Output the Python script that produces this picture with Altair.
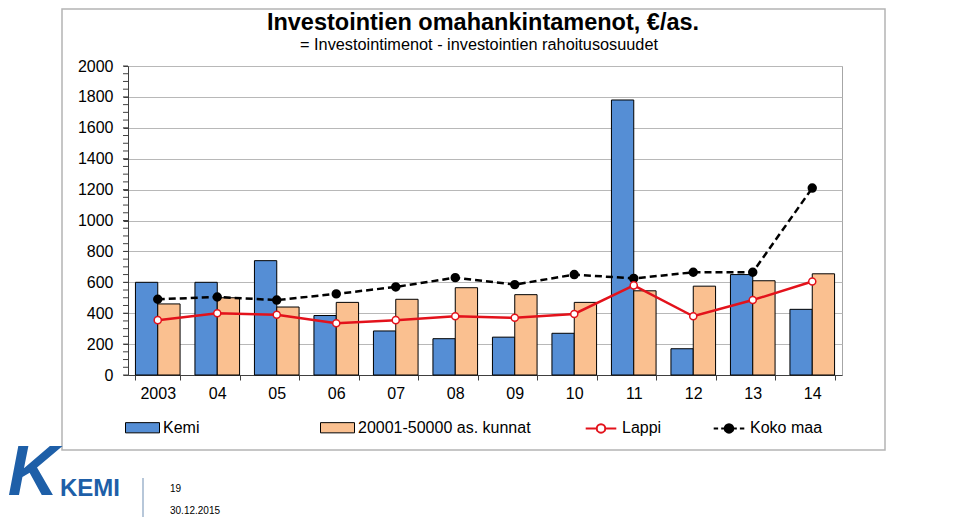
import altair as alt
import pandas as pd

# ---- data ----
years = ["2003", "04", "05", "06", "07", "08", "09", "10", "11", "12", "13", "14"]
kemi = [600, 600, 740, 385, 285, 235, 245, 270, 1780, 170, 650, 425]
kunnat = [460, 500, 440, 470, 490, 565, 520, 470, 545, 575, 610, 655]
lappi = [355, 400, 390, 335, 355, 380, 370, 395, 580, 380, 485, 605]
koko_maa = [490, 505, 485, 525, 570, 630, 585, 650, 625, 665, 665, 1210]

bar_series = ["Kemi", "20001-50000 as. kunnat"]
line_series = ["Lappi", "Koko maa"]

title_text = "Investointien omahankintamenot, €/as."
subtitle_text = "= Investointimenot - investointien rahoitusosuudet"

BLUE = "#558ed5"
ORANGE = "#fac090"
RED = "#e3121b"
FONT = "Liberation Sans"
FS = 16

bars_df = pd.DataFrame(
    {"year": years * 2,
     "series": [bar_series[0]] * len(years) + [bar_series[1]] * len(years),
     "value": kemi + kunnat}
)
lines_df = pd.DataFrame({"year": years, "lappi": lappi, "koko": koko_maa})
minor_df = pd.DataFrame({"v": list(range(0, 2001, 50))})

xscale = alt.Scale(domain=years, paddingInner=0.25, paddingOuter=0.125)
yscale = alt.Scale(domain=[0, 2000], nice=False)

x_axis = alt.Axis(title=None, labelFontSize=FS, labelFont=FONT, labelColor="black",
                  labelAngle=0, tickBand="extent", tickSize=5, tickColor="#404040",
                  domainColor="#404040", labelPadding=5, grid=False, labelOverlap=False)
y_axis = alt.Axis(title=None, values=list(range(0, 2001, 200)), format="d",
                  labelFontSize=FS, labelFont=FONT, labelColor="black", labelOverlap=False,
                  tickSize=5, tickColor="#404040", domainColor="#404040",
                  labelPadding=10, grid=True, gridColor="#b8b8b8")

bars = alt.Chart(bars_df).mark_bar(stroke="black", strokeWidth=1).encode(
    x=alt.X("year:N", scale=xscale, axis=x_axis, sort=years),
    xOffset=alt.XOffset("series:N", scale=alt.Scale(domain=bar_series, paddingInner=0, paddingOuter=0)),
    y=alt.Y("value:Q", scale=yscale, axis=y_axis),
    fill=alt.Fill("series:N", scale=alt.Scale(domain=bar_series, range=[BLUE, ORANGE]), legend=None),
)

minor_ticks = alt.Chart(minor_df).mark_rule(color="#404040", strokeWidth=1).encode(
    x=alt.value(-5), x2=alt.value(0),
    y=alt.Y("v:Q", scale=yscale, axis=y_axis),
)

base_line = alt.Chart(lines_df).encode(x=alt.X("year:N", scale=xscale, sort=years, axis=x_axis))
koko_line = base_line.mark_line(color="black", strokeWidth=2.5, strokeDash=[7, 4]).encode(
    y=alt.Y("koko:Q", scale=yscale, axis=y_axis))
koko_pts = base_line.mark_point(filled=True, fill="black", stroke="black", size=55, opacity=1).encode(
    y=alt.Y("koko:Q", scale=yscale, axis=y_axis))
lappi_line = base_line.mark_line(color=RED, strokeWidth=2.5).encode(
    y=alt.Y("lappi:Q", scale=yscale, axis=y_axis))
lappi_pts = base_line.mark_point(filled=True, fill="white", stroke=RED, strokeWidth=1.5, size=50,
                                 opacity=1).encode(y=alt.Y("lappi:Q", scale=yscale, axis=y_axis))

# ---- legends (symbols from scales, no data drawn) ----
RECT = "M-1,-0.3H1V0.3H-1Z"
CIRC = "M0.25,0A0.25,0.25,0,1,1,-0.25,0A0.25,0.25,0,1,1,0.25,0Z"
LAPPI_SYM = "M-0.9,0H-0.27M0.27,0H0.9" + CIRC
KOKO_SYM = "M-0.9,0H-0.64M-0.46,0H-0.27M0.27,0H0.46M0.64,0H0.9" + CIRC


def leg(x, y, pad, sw):
    return alt.Legend(title=None, orient="none", legendX=x, legendY=y, direction="horizontal",
                      labelFontSize=FS, labelFont=FONT, labelColor="black", symbolSize=1156,
                      columnPadding=pad, labelOffset=3, symbolStrokeWidth=sw, symbolOpacity=1,
                      labelLimit=400)


legA = leg(-3, 344, 118, 1)
legend_bars = alt.Chart(pd.DataFrame({"s": bar_series})).transform_filter("false").mark_point(
    filled=True, opacity=1).encode(
    fill=alt.Fill("s:N", scale=alt.Scale(domain=bar_series, range=[BLUE, ORANGE]), legend=legA),
    stroke=alt.Stroke("s:N", scale=alt.Scale(domain=bar_series, range=["black", "black"]), legend=legA),
    shape=alt.Shape("s:N", scale=alt.Scale(domain=bar_series, range=[RECT, RECT]), legend=legA),
)
legB = leg(455, 344, 47, 2)
legend_lines = alt.Chart(pd.DataFrame({"l": line_series})).transform_filter("false").mark_point(
    filled=True, opacity=1).encode(
    fill=alt.Fill("l:N", scale=alt.Scale(domain=line_series, range=["white", "black"]), legend=legB),
    stroke=alt.Stroke("l:N", scale=alt.Scale(domain=line_series, range=[RED, "black"]), legend=legB),
    shape=alt.Shape("l:N", scale=alt.Scale(domain=line_series, range=[LAPPI_SYM, KOKO_SYM]), legend=legB),
)

# ---- titles and page decorations ----
one = pd.DataFrame({"a": [0]})
title = alt.Chart(one).mark_text(text=title_text, font=FONT, fontSize=23.5, fontWeight="bold",
                                 color="black", align="center", baseline="alphabetic").encode(
    x=alt.value(355), y=alt.value(-36))
subtitle = alt.Chart(one).mark_text(text=subtitle_text, font=FONT, fontSize=16.3,
                                    color="black", align="center", baseline="alphabetic").encode(
    x=alt.value(351), y=alt.value(-16))
frame = alt.Chart(one).mark_rect(fillOpacity=0, stroke="#b4b4b4", strokeWidth=1.5).encode(
    x=alt.value(-66), x2=alt.value(757), y=alt.value(-57), y2=alt.value(384))
logo_k = alt.Chart(one).mark_text(text="K", font=FONT, fontSize=70, fontWeight="bold",
                                  fontStyle="italic", color="#1e5fa8", align="center",
                                  baseline="bottom").encode(
    x=alt.value(-95), y=alt.value(444))
logo_txt = alt.Chart(one).mark_text(text="KEMI", font=FONT, fontSize=24, fontWeight="bold",
                                    color="#1e5fa8", align="center", baseline="alphabetic").encode(
    x=alt.value(-38), y=alt.value(430))
divider = alt.Chart(one).mark_rule(color="#9fb5cc", strokeWidth=1.5).encode(
    x=alt.value(15), y=alt.value(412), y2=alt.value(452))
page_no = alt.Chart(one).mark_text(text="19", font=FONT, fontSize=10, color="black",
                                   align="left").encode(x=alt.value(42), y=alt.value(423))
date_txt = alt.Chart(one).mark_text(text="30.12.2015", font=FONT, fontSize=10, color="black",
                                    align="left").encode(x=alt.value(42), y=alt.value(445))

chart = alt.layer(
    frame, bars, minor_ticks, koko_line, koko_pts, lappi_line, lappi_pts,
    legend_bars, legend_lines, title, subtitle, logo_k, logo_txt, divider, page_no, date_txt,
).resolve_scale(
    fill="independent", stroke="independent", shape="independent"
).properties(
    width=714, height=309,
    autosize=alt.AutoSizeParams(type="none"),
    padding={"left": 120, "top": 58, "right": 110, "bottom": 142},
).configure_view(fill="#f8f8f8", stroke="#a6a6a6", strokeWidth=1)

chart.save("out.html", embed_options={"renderer": "svg", "actions": False})
